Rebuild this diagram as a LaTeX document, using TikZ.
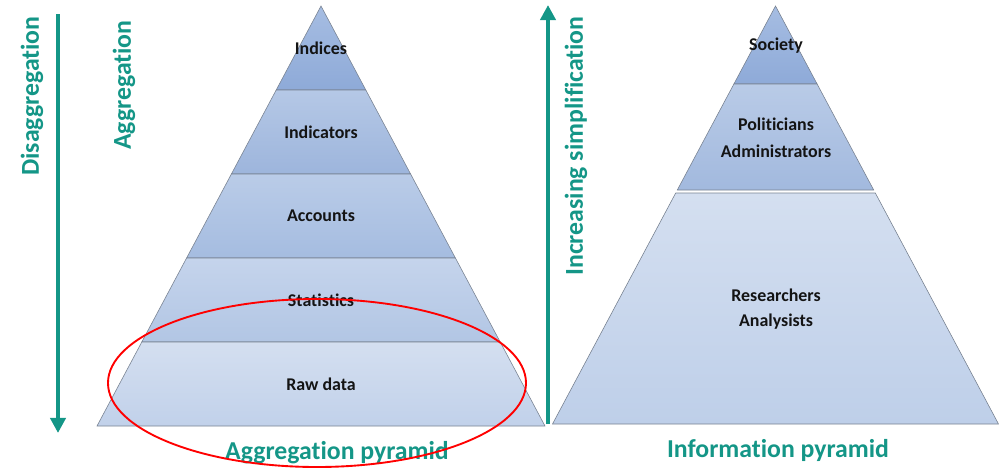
\documentclass[tikz,border=0pt]{standalone}
\usepackage{fontspec}
\setmainfont{Carlito}[Ligatures=NoCommon]
\usetikzlibrary{arrows.meta,shapes.geometric}
\definecolor{teal1}{RGB}{20,150,135}
\definecolor{txt}{RGB}{20,20,20}
\definecolor{edge}{RGB}{120,130,145}
\definecolor{aT}{RGB}{166,189,226}\definecolor{aB}{RGB}{142,170,216}
\definecolor{bT}{RGB}{181,200,230}\definecolor{bB}{RGB}{157,181,220}
\definecolor{cT}{RGB}{186,204,232}\definecolor{cB}{RGB}{165,188,224}
\definecolor{dT}{RGB}{197,212,236}\definecolor{dB}{RGB}{178,198,228}
\definecolor{eT}{RGB}{212,223,240}\definecolor{eB}{RGB}{193,209,234}
\definecolor{fT}{RGB}{185,203,231}\definecolor{fB}{RGB}{162,185,222}
\definecolor{gT}{RGB}{212,223,240}\definecolor{gB}{RGB}{190,207,233}
\begin{document}
\begin{tikzpicture}[x=0.03cm,y=-0.03cm,
 band/.style={draw=edge, line width=0.5pt},
 lbl/.style={font=\bfseries\fontsize{15.3}{18}\selectfont, text=txt, inner sep=0pt},
 tlbl/.style={font=\bfseries\fontsize{22}{26}\selectfont, text=teal1, inner sep=0pt},
 tarrow/.style={draw=teal1, line width=3.4pt, -{Triangle[width=13pt,length=13pt]}}]
\useasboundingbox (0,0) rectangle (999,468);
% left pyramid
\path[band, top color=aT, bottom color=aB] (321,6) -- (276.2,90) -- (365.8,90) -- cycle;
\path[band, top color=bT, bottom color=bB] (276.2,90) -- (231.4,174) -- (410.6,174) -- (365.8,90) -- cycle;
\path[band, top color=cT, bottom color=cB] (231.4,174) -- (186.6,258) -- (455.4,258) -- (410.6,174) -- cycle;
\path[band, top color=dT, bottom color=dB] (186.6,258) -- (141.8,342) -- (500.2,342) -- (455.4,258) -- cycle;
\path[band, top color=eT, bottom color=eB] (141.8,342) -- (97,426) -- (545,426) -- (500.2,342) -- cycle;
% right pyramid
\path[band, top color=aT, bottom color=aB] (775.5,6) -- (733.9,84) -- (817.1,84) -- cycle;
\path[band, top color=fT, bottom color=fB] (733.9,84) -- (677.3,190) -- (873.7,190) -- (817.1,84) -- cycle;
\path[band, top color=gT, bottom color=gB] (675.7,193) -- (552.5,424) -- (998.5,424) -- (875.3,193) -- cycle;
% labels
\node[lbl] (ind) at (321,48) {Indices};
\node[lbl] (indc) at (321,132) {Indicators};
\node[lbl] (acc) at (321,216) {Accounts};
\node[lbl] (stat) at (321,300) {Statistics};
\node[lbl] (raw) at (321,384) {Raw data};
\node[lbl] (soc) at (776,46) {Society};
\node[lbl] (pol) at (776,124) {Politicians};
\node[lbl] (adm) at (776,151) {Administrators};
\node[lbl] (res) at (776,295) {Researchers};
\node[lbl] (ana) at (776,322) {Analysists};
% arrows
\coordinate (d1) at (58,14);
\coordinate (d2) at (58,433);
\draw[tarrow] (d1) -- (d2);
\coordinate (s1) at (548,424);
\coordinate (s2) at (548,5);
\draw[tarrow] (s1) -- (s2);
% teal labels
\node[tlbl, rotate=90] (dis) at (32,96) {Disaggregation};
\node[tlbl, rotate=90] (agg) at (124,85) {Aggregation};
\node[tlbl, rotate=90] (inc) at (576,146) {Increasing simplification};
\node[tlbl] (ap) at (337,453) {Aggregation pyramid};
\node[tlbl] (ip) at (778,450) {Information pyramid};
% red ellipse
\node[draw=red, line width=1.6pt, ellipse, minimum width=12.54cm, minimum height=5.04cm, inner sep=0pt] (hl) at (317,383) {};
\end{tikzpicture}
\end{document}
